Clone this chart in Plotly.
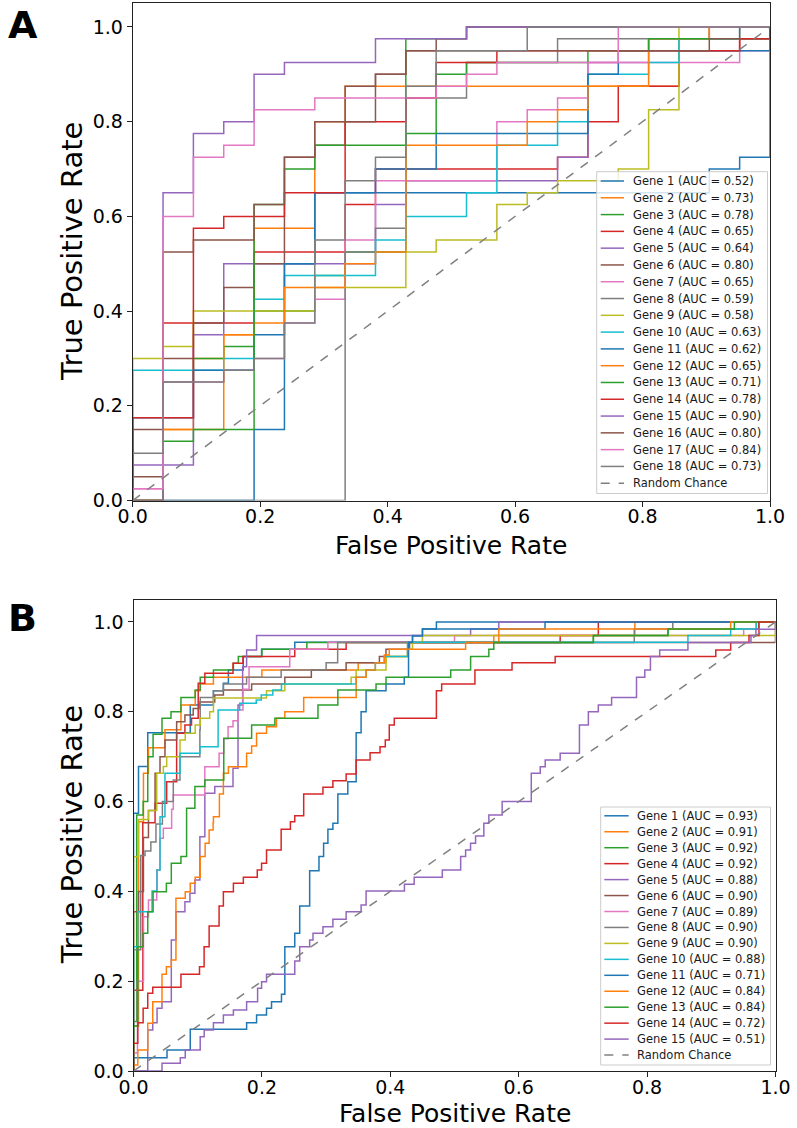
import plotly.graph_objects as go

COLORS = ['#1f77b4', '#ff7f0e', '#2ca02c', '#d62728', '#9467bd',
          '#8c564b', '#e377c2', '#7f7f7f', '#bcbd22', '#17becf']

# ---------------- Panel A : 21 negatives, 40 positives (counts read from steps) ----------
A_NNEG = 21
A_NPOS = 40
A_AUC = [0.52, 0.73, 0.78, 0.65, 0.64, 0.80, 0.65, 0.59, 0.58, 0.63,
         0.62, 0.65, 0.71, 0.78, 0.90, 0.80, 0.84, 0.73]

A1_FP = [0, 4, 5, 6, 19, 20, 21]
A1_TP = [0, 6, 20, 26, 28, 29, 40]
A2_FP = [0, 1, 2, 3, 4, 6, 7, 18, 19, 21]
A2_TP = [0, 6, 12, 14, 23, 32, 35, 39, 40, 40]
A3_FP = [0, 1, 2, 3, 4, 6, 7, 9, 11, 21]
A3_TP = [0, 10, 12, 13, 16, 19, 21, 39, 40, 40]
A4_FP = [0, 1, 4, 7, 8, 14, 15, 16, 18, 20, 21]
A4_TP = [0, 15, 21, 25, 28, 29, 32, 35, 38, 39, 40]
A5_FP = [0, 0, 2, 3, 8, 9, 14, 15, 17, 21]
A5_TP = [0, 3, 14, 20, 25, 27, 29, 37, 39, 40]
A6_FP = [0, 0, 1, 2, 3, 4, 5, 6, 7, 8, 9, 10, 11, 21]
A6_TP = [0, 2, 12, 15, 18, 20, 29, 30, 35, 36, 38, 39, 40, 40]
A7_FP = [0, 0, 1, 3, 4, 5, 6, 7, 8, 12, 13, 14, 15, 20, 21]
A7_TP = [0, 1, 10, 11, 12, 15, 17, 22, 27, 32, 33, 34, 37, 38, 40]
A8_FP = [0, 7, 8, 9, 11, 14, 19, 21]
A8_TP = [0, 21, 23, 34, 37, 39, 40, 40]
A9_FP = [0, 0, 1, 2, 6, 9, 10, 12, 13, 14, 16, 17, 18, 21]
A9_TP = [0, 12, 13, 16, 18, 21, 22, 25, 26, 27, 28, 33, 40, 40]
A10_FP = [0, 0, 3, 4, 5, 8, 9, 11, 12, 14, 15, 17, 18, 20, 21]
A10_TP = [0, 11, 12, 17, 19, 22, 24, 26, 30, 32, 36, 37, 39, 40, 40]
A11_FP = [0, 0, 2, 4, 5, 6, 8, 10, 15, 16, 21]
A11_TP = [0, 7, 11, 14, 20, 26, 28, 31, 36, 38, 40]
A12_FP = [0, 1, 3, 4, 5, 7, 8, 9, 13, 14, 15, 17, 19, 21]
A12_TP = [0, 6, 14, 15, 18, 20, 21, 30, 32, 33, 35, 39, 40, 40]
A13_FP = [0, 1, 2, 4, 5, 6, 9, 10, 11, 15, 17, 21]
A13_TP = [0, 5, 6, 25, 28, 30, 31, 36, 37, 38, 39, 40]
A14_FP = [0, 0, 2, 3, 5, 7, 9, 10, 12, 20, 21]
A14_TP = [0, 7, 23, 24, 26, 32, 34, 37, 38, 39, 40]
A15_FP = [0, 1, 2, 3, 4, 5, 8, 11, 21]
A15_TP = [0, 26, 31, 32, 36, 37, 39, 40, 40]
A16_FP = [0, 0, 1, 2, 4, 5, 6, 8, 9, 19, 20, 21]
A16_TP = [0, 6, 21, 22, 25, 29, 32, 36, 38, 39, 40, 40]
A17_FP = [0, 0, 1, 2, 3, 4, 6, 10, 11, 12, 16, 21]
A17_TP = [0, 1, 24, 29, 30, 33, 34, 35, 36, 37, 40, 40]
A18_FP = [0, 0, 1, 3, 4, 5, 6, 7, 8, 9, 10, 13, 21]
A18_TP = [0, 4, 10, 11, 12, 15, 22, 27, 29, 35, 38, 40, 40]

A_FP = [A1_FP, A2_FP, A3_FP, A4_FP, A5_FP, A6_FP, A7_FP, A8_FP, A9_FP,
        A10_FP, A11_FP, A12_FP, A13_FP, A14_FP, A15_FP, A16_FP, A17_FP, A18_FP]
A_TP = [A1_TP, A2_TP, A3_TP, A4_TP, A5_TP, A6_TP, A7_TP, A8_TP, A9_TP,
        A10_TP, A11_TP, A12_TP, A13_TP, A14_TP, A15_TP, A16_TP, A17_TP, A18_TP]

# ---------------- Panel B : rates ----------------
B_AUC = [0.93, 0.91, 0.92, 0.92, 0.88, 0.90, 0.89, 0.90, 0.90, 0.88,
         0.71, 0.84, 0.84, 0.72, 0.51]

B1_FPR = [0, 0, 0.0078, 0.0222, 0.0884, 0.1245, 0.14, 0.1478, 0.171, 0.1995, 0.2512, 0.4346, 0.4501, 0.4718, 1.0]
B1_TPR = [0, 0.574, 0.678, 0.7535, 0.8151, 0.847, 0.8634, 0.8931, 0.9228, 0.9391, 0.9547, 0.9696, 0.9844, 1.0, 1.0]
B2_FPR = [0, 0, 0.0078, 0.0155, 0.0233, 0.049, 0.0739, 0.0961, 0.1039, 0.1245, 0.2, 0.35, 0.3933, 0.4269, 0.5612, 0.7809, 1.0]
B2_TPR = [0, 0.10, 0.555, 0.663, 0.72, 0.76, 0.8151, 0.847, 0.8619, 0.8767, 0.8931, 0.9094, 0.9228, 0.954, 0.9696, 1.0, 1.0]
B3_FPR = [0, 0, 0.005, 0.015, 0.0222, 0.0305, 0.0444, 0.0584, 0.0739, 0.0961, 0.1039, 0.1245, 0.1556, 0.1633, 0.2, 0.27, 0.7163, 0.8326, 0.974, 1.0]
B3_TPR = [0, 0.11, 0.57, 0.60, 0.70, 0.75, 0.7855, 0.8003, 0.8315, 0.8485, 0.8767, 0.8931, 0.908, 0.9228, 0.9391, 0.954, 0.9696, 0.9844, 1.0, 1.0]
B4_FPR = [0, 0, 0.0145, 0.0336, 0.0517, 0.0672, 0.0801, 0.0904, 0.1008, 0.1111, 0.155, 0.1705, 0.2512, 0.3312, 0.6646, 0.724, 1.0]
B4_TPR = [0, 0.18, 0.553, 0.5961, 0.6444, 0.752, 0.7706, 0.7854, 0.8634, 0.8857, 0.908, 0.9228, 0.9391, 0.954, 0.9696, 1.0, 1.0]
B5_FPR = [0, 0.0222, 0.03, 0.0367, 0.0444, 0.0589, 0.0661, 0.0801, 0.0879, 0.0956, 0.1034, 0.1111, 0.1266, 0.155, 0.1628, 0.17, 0.1762, 0.1917, 0.5251, 0.569, 1.0]
B5_TPR = [0, 0.0913, 0.1077, 0.1396, 0.1544, 0.2918, 0.3549, 0.3771, 0.3957, 0.4254, 0.5219, 0.6184, 0.6333, 0.6741, 0.8151, 0.9005, 0.9376, 0.9696, 0.9844, 1.0, 1.0]
B6_FPR = [0, 0, 0.0078, 0.0155, 0.0233, 0.0336, 0.0413, 0.049, 0.0672, 0.0801, 0.093, 0.1034, 0.1266, 0.14, 0.184, 0.2357, 0.277, 0.3312, 0.383, 0.3933, 0.43, 1.0]
B6_TPR = [0, 0.3549, 0.40, 0.52, 0.58, 0.663, 0.70, 0.737, 0.778, 0.793, 0.807, 0.822, 0.8374, 0.8485, 0.8619, 0.8767, 0.8931, 0.9094, 0.9228, 0.9391, 0.954, 1.0]
B7_FPR = [0, 0, 0.0062, 0.0155, 0.0233, 0.0362, 0.0413, 0.0465, 0.0594, 0.062, 0.1111, 0.1333, 0.1406, 0.1473, 0.155, 0.1628, 0.1705, 0.18, 0.2434, 0.3028, 0.5, 0.9504, 0.97, 1.0]
B7_TPR = [0, 0.04, 0.2, 0.3437, 0.3809, 0.4477, 0.5182, 0.5405, 0.5828, 0.6147, 0.6778, 0.7075, 0.74, 0.7669, 0.78, 0.804, 0.85, 0.9, 0.9391, 0.9547, 0.9696, 0.9844, 1.0, 1.0]
B8_FPR = [0, 0, 0.0113, 0.018, 0.027, 0.035, 0.045, 0.062, 0.0724, 0.1034, 0.1039, 0.1245, 0.14, 0.1762, 0.23, 0.30, 0.318, 0.78, 0.84, 1.0]
B8_TPR = [0, 0.27, 0.48, 0.49, 0.51, 0.55, 0.60, 0.648, 0.70, 0.76, 0.8315, 0.847, 0.8619, 0.8767, 0.893, 0.9094, 0.954, 0.9844, 1.0, 1.0]
B9_FPR = [0, 0, 0.0078, 0.0233, 0.0362, 0.0465, 0.0517, 0.0724, 0.0806, 0.0961, 0.1039, 0.1187, 0.1245, 0.2072, 0.2357, 0.339, 0.3468, 0.3933, 0.4269, 0.4346, 0.4501, 1.0]
B9_TPR = [0, 0.477, 0.56, 0.58, 0.663, 0.678, 0.70, 0.737, 0.7521, 0.7706, 0.7855, 0.8003, 0.8304, 0.847, 0.8619, 0.8767, 0.8931, 0.9228, 0.9391, 0.954, 0.9696, 1.0]
B10_FPR = [0, 0, 0.0067, 0.0289, 0.0367, 0.0413, 0.049, 0.0724, 0.1034, 0.1318, 0.1654, 0.1912, 0.199, 0.217, 0.2305, 0.3468, 0.3623, 0.3767, 0.3907, 0.4269, 0.8636, 0.9302, 0.97, 1.0]
B10_TPR = [0, 0.2769, 0.3549, 0.4009, 0.4477, 0.5664, 0.663, 0.7075, 0.7223, 0.804, 0.8189, 0.8263, 0.8374, 0.8486, 0.8619, 0.8767, 0.8931, 0.9094, 0.9228, 0.9547, 0.9696, 0.9844, 1.0, 1.0]
B11_FPR = [0, 0, 0.0522, 0.0884, 0.1762, 0.1917, 0.2072, 0.215, 0.2305, 0.2357, 0.2512, 0.2589, 0.2744, 0.2889, 0.2961, 0.3028, 0.3106, 0.3183, 0.3338, 0.3468, 0.3545, 0.3623, 0.3933, 0.4217, 0.4284, 0.4346, 0.4501, 0.641, 1.0]
B11_TPR = [0, 0.0297, 0.0468, 0.0928, 0.1077, 0.1247, 0.1396, 0.1544, 0.1708, 0.2769, 0.3066, 0.3675, 0.4462, 0.4774, 0.507, 0.5382, 0.5516, 0.6169, 0.6444, 0.7535, 0.8003, 0.847, 0.8619, 0.8767, 0.9547, 0.9688, 0.9844, 1.0, 1.0]
B12_FPR = [0, 0, 0.0067, 0.0222, 0.03, 0.0444, 0.0512, 0.0589, 0.0661, 0.0806, 0.0884, 0.0961, 0.1039, 0.1116, 0.1178, 0.124, 0.1245, 0.1338, 0.14, 0.1478, 0.1762, 0.184, 0.1917, 0.2072, 0.2227, 0.2357, 0.2651, 0.3468, 0.3623, 0.3767, 0.3907, 0.3984, 0.5173, 0.569, 0.9302, 1.0]
B12_TPR = [0, 0.0134, 0.0468, 0.1062, 0.1544, 0.2153, 0.2323, 0.2472, 0.3846, 0.3994, 0.418, 0.4313, 0.4774, 0.507, 0.5367, 0.553, 0.5664, 0.6169, 0.663, 0.6778, 0.7075, 0.7238, 0.7521, 0.7669, 0.7855, 0.8003, 0.8315, 0.8767, 0.8931, 0.9094, 0.9265, 0.9391, 0.954, 0.9844, 1.0, 1.0]
B13_FPR = [0, 0, 0.0067, 0.015, 0.0222, 0.0305, 0.0512, 0.0589, 0.0739, 0.0827, 0.0956, 0.1111, 0.1406, 0.184, 0.2202, 0.2873, 0.3183, 0.3778, 0.3933, 0.4941, 0.5251, 0.5535, 0.5612, 0.7163, 0.8326, 0.9359, 1.0]
B13_TPR = [0, 0.1, 0.2769, 0.3066, 0.3549, 0.3994, 0.418, 0.4626, 0.4774, 0.585, 0.6333, 0.648, 0.7409, 0.7706, 0.7855, 0.8151, 0.8485, 0.8619, 0.8767, 0.8931, 0.9228, 0.9391, 0.954, 0.9696, 0.9844, 1.0, 1.0]
B14_FPR = [0, 0, 0.0067, 0.015, 0.0222, 0.03, 0.0739, 0.1028, 0.11, 0.1178, 0.1333, 0.14, 0.1556, 0.1711, 0.1928, 0.1995, 0.2072, 0.23, 0.2444, 0.2512, 0.2651, 0.2951, 0.3106, 0.3312, 0.3468, 0.3685, 0.384, 0.3922, 0.3984, 0.4062, 0.4718, 0.48, 0.5318, 0.5896, 0.6568, 0.907, 0.9302, 0.9587, 0.9742, 1.0]
B14_TPR = [0, 0.0616, 0.1077, 0.1396, 0.173, 0.1864, 0.2153, 0.2323, 0.2769, 0.3229, 0.3675, 0.3994, 0.418, 0.4313, 0.4477, 0.4626, 0.4923, 0.5382, 0.5553, 0.5686, 0.6169, 0.6317, 0.6466, 0.6614, 0.6926, 0.709, 0.7223, 0.7372, 0.7706, 0.7855, 0.847, 0.8619, 0.8931, 0.9094, 0.9228, 0.9376, 0.954, 0.9696, 1.0, 1.0]
B15_FPR = [0, 0.0444, 0.0729, 0.0806, 0.1039, 0.1101, 0.1245, 0.14, 0.1556, 0.1762, 0.1933, 0.1995, 0.2072, 0.2512, 0.2589, 0.2744, 0.2796, 0.2951, 0.3106, 0.3312, 0.3545, 0.3623, 0.422, 0.4372, 0.481, 0.5096, 0.5173, 0.525, 0.5328, 0.5457, 0.5535, 0.5742, 0.6196, 0.6336, 0.6413, 0.6646, 0.6946, 0.7085, 0.724, 0.7447, 0.7835, 0.7964, 0.8052, 0.8196, 0.8636, 0.9618, 0.9695, 1.0]
B15_TPR = [0, 0.0171, 0.0297, 0.0468, 0.0765, 0.0913, 0.1077, 0.1247, 0.1359, 0.1544, 0.1841, 0.1989, 0.2153, 0.245, 0.2769, 0.2918, 0.3066, 0.3215, 0.3378, 0.3549, 0.3697, 0.4009, 0.4157, 0.4313, 0.4477, 0.4774, 0.4922, 0.507, 0.5234, 0.5516, 0.5702, 0.5999, 0.663, 0.6778, 0.6927, 0.7075, 0.7706, 0.8003, 0.8151, 0.8315, 0.8767, 0.8931, 0.9228, 0.9376, 0.954, 0.9696, 0.9837, 1.0]

B_FPR = [B1_FPR, B2_FPR, B3_FPR, B4_FPR, B5_FPR, B6_FPR, B7_FPR, B8_FPR, B9_FPR, B10_FPR,
         B11_FPR, B12_FPR, B13_FPR, B14_FPR, B15_FPR]
B_TPR = [B1_TPR, B2_TPR, B3_TPR, B4_TPR, B5_TPR, B6_TPR, B7_TPR, B8_TPR, B9_TPR, B10_TPR,
         B11_TPR, B12_TPR, B13_TPR, B14_TPR, B15_TPR]

TICKS = [0.0, 0.2, 0.4, 0.6, 0.8, 1.0]
TICK_TEXT = ['0.0', '0.2', '0.4', '0.6', '0.8', '1.0']
CHANCE_X = [0, 1]
CHANCE_Y = [0, 1]
X_TITLE = 'False Positive Rate'
Y_TITLE = 'True Positive Rate'

FONT = 'DejaVu Sans'
W, H = 797, 1128
CHANCE_COLOR = '#808080'

# plot-area pixel boxes (left, right, top, bottom)
BOX_A = (132.7, 770.0, 3.3, 500.5)
BOX_B = (133.5, 775.5, 599.5, 1071.0)

fig = go.Figure()

for i, (fp, tp) in enumerate(zip(A_FP, A_TP)):
    fig.add_trace(go.Scatter(
        x=[v / A_NNEG for v in fp], y=[v / A_NPOS for v in tp],
        mode='lines', line=dict(color=COLORS[i % 10], width=1.5, shape='hv'),
        name=f'Gene {i + 1} (AUC = {A_AUC[i]:.2f})', showlegend=False,
        xaxis='x', yaxis='y'))
fig.add_trace(go.Scatter(x=CHANCE_X, y=CHANCE_Y, mode='lines',
                         line=dict(color=CHANCE_COLOR, width=1.5, dash='dash'),
                         name='Random Chance', showlegend=False, xaxis='x', yaxis='y'))

for i, (fp, tp) in enumerate(zip(B_FPR, B_TPR)):
    fig.add_trace(go.Scatter(
        x=fp, y=tp, mode='lines',
        line=dict(color=COLORS[i % 10], width=1.5, shape='hv'),
        name=f'Gene {i + 1} (AUC = {B_AUC[i]:.2f})', showlegend=False,
        xaxis='x2', yaxis='y2'))
fig.add_trace(go.Scatter(x=CHANCE_X, y=CHANCE_Y, mode='lines',
                         line=dict(color=CHANCE_COLOR, width=1.5, dash='dash'),
                         name='Random Chance', showlegend=False, xaxis='x2', yaxis='y2'))

# ---------- legends (box, sample lines and labels) ----------
shapes = []
annotations = []


def add_legend(labels, colors, box, row0, row_step, line_x0, line_x1, text_x):
    left, right, top, bottom = box
    shapes.append(dict(type='rect', xref='paper', yref='paper',
                       x0=left / W, x1=right / W, y0=1 - bottom / H, y1=1 - top / H,
                       fillcolor='rgba(255,255,255,0.8)',
                       line=dict(color='#cccccc', width=1), layer='above'))
    for r, (lab, col) in enumerate(zip(labels, colors)):
        yc = row0 + r * row_step
        dash = 'dash' if lab == 'Random Chance' else 'solid'
        shapes.append(dict(type='line', xref='paper', yref='paper',
                           x0=line_x0 / W, x1=line_x1 / W, y0=1 - yc / H, y1=1 - yc / H,
                           line=dict(color=col, width=1.5, dash=dash), layer='above'))
        annotations.append(dict(text=lab, x=text_x / W, y=1 - yc / H, xref='paper', yref='paper',
                                xanchor='left', yanchor='middle', showarrow=False,
                                font=dict(family=FONT, size=11.5, color='#1a1a1a')))


labels_a = [f'Gene {i + 1} (AUC = {a:.2f})' for i, a in enumerate(A_AUC)] + ['Random Chance']
colors_a = [COLORS[i % 10] for i in range(len(A_AUC))] + [CHANCE_COLOR]
add_legend(labels_a, colors_a, (596.7, 767.5, 171.7, 493.5), 181.0, 16.79, 600.7, 624.0, 630.5)

labels_b = [f'Gene {i + 1} (AUC = {a:.2f})' for i, a in enumerate(B_AUC)] + ['Random Chance']
colors_b = [COLORS[i % 10] for i in range(len(B_AUC))] + [CHANCE_COLOR]
add_legend(labels_b, colors_b, (600.7, 770.5, 807.0, 1065.0), 815.8, 15.95, 604.3, 628.7, 635.0)


def add_titles(box, x_title_y, y_title_x):
    left, right, top, bottom = box
    annotations.append(dict(text=X_TITLE, x=(left + right) / 2 / W, y=1 - x_title_y / H,
                            xref='paper', yref='paper', xanchor='center', yanchor='middle',
                            borderpad=0, showarrow=False,
                            font=dict(family=FONT, size=25, color='black')))
    annotations.append(dict(text=Y_TITLE, x=y_title_x / W, y=1 - (top + bottom) / 2 / H,
                            xref='paper', yref='paper', xanchor='center', yanchor='middle',
                            borderpad=0, textangle=-90, showarrow=False,
                            font=dict(family=FONT, size=29, color='black')))


add_titles(BOX_A, BOX_A[3] + 45.0, 72)
add_titles(BOX_B, BOX_B[3] + 42.6, 72)

annotations += [
    dict(text='<b>A</b>', x=6 / W, y=1 - 1 / H, xref='paper', yref='paper',
         xanchor='left', yanchor='top', showarrow=False,
         font=dict(family=FONT, size=38, color='black')),
    dict(text='<b>B</b>', x=6 / W, y=1 - 594 / H, xref='paper', yref='paper',
         xanchor='left', yanchor='top', showarrow=False,
         font=dict(family=FONT, size=38, color='black')),
]

axis_common = dict(showline=True, mirror=True, linecolor='#222', linewidth=1,
                   ticks='outside', ticklen=5, tickwidth=1, tickcolor='#222',
                   showgrid=False, zeroline=False, automargin=False,
                   tickfont=dict(family=FONT, size=19, color='black'),
                   tickvals=TICKS, ticktext=TICK_TEXT)

fig.update_layout(
    width=W, height=H, margin=dict(l=0, r=0, t=0, b=0),
    paper_bgcolor='white', plot_bgcolor='white',
    font=dict(family=FONT, color='black'),
    showlegend=False,
    xaxis=dict(domain=[BOX_A[0] / W, BOX_A[1] / W], anchor='y', range=[0, 1],
               ticklabelstandoff=-6, **axis_common),
    yaxis=dict(domain=[1 - BOX_A[3] / H, 1 - BOX_A[2] / H], anchor='x', range=[0, 1.05], **axis_common),
    xaxis2=dict(domain=[BOX_B[0] / W, BOX_B[1] / W], anchor='y2', range=[0, 1],
                ticklabelstandoff=-6, **axis_common),
    yaxis2=dict(domain=[1 - BOX_B[3] / H, 1 - BOX_B[2] / H], anchor='x2', range=[0, 1.05], **axis_common),
    shapes=shapes,
    annotations=annotations,
)

fig.write_html('out.html')
